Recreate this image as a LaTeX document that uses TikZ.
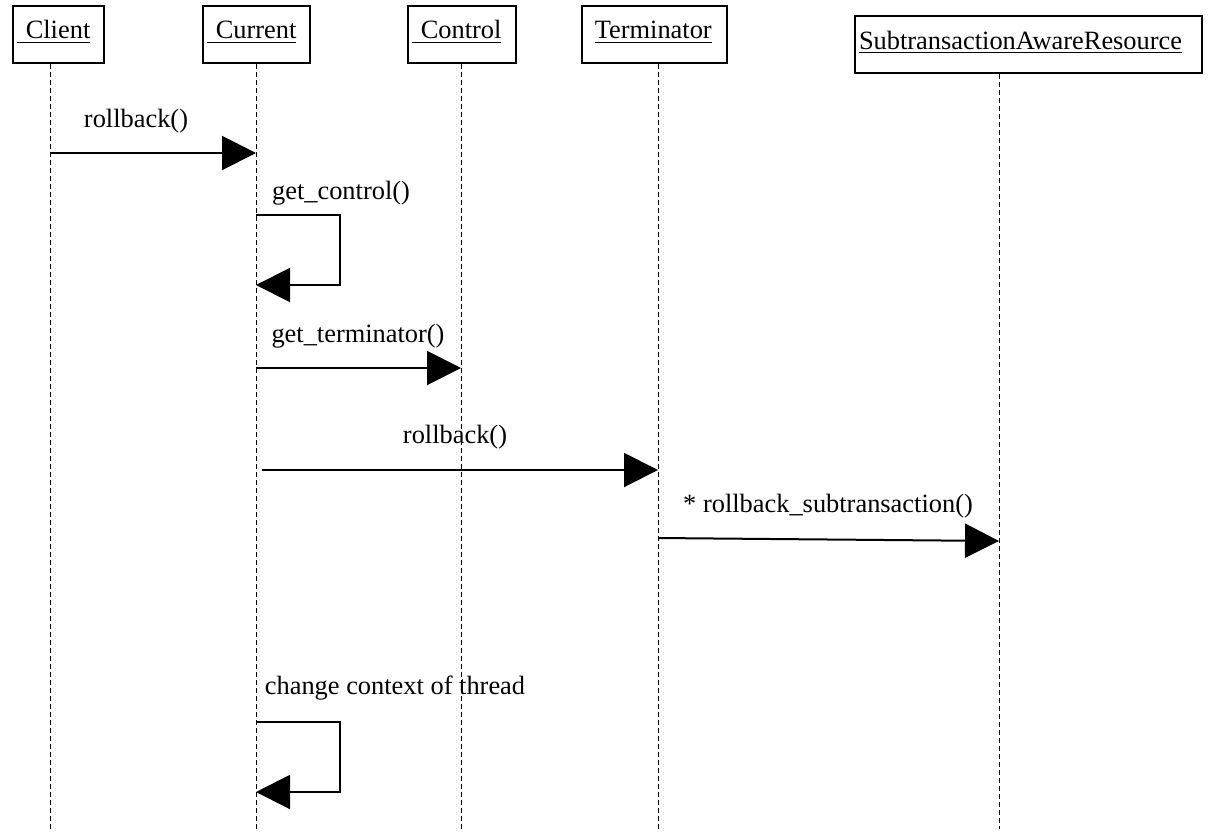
\documentclass[tikz,border=0pt]{standalone}
\usepackage{fontspec}
\setmainfont{Liberation Serif}
\usetikzlibrary{arrows.meta}
\tikzset{
	obj/.style={draw, line width=1pt, inner xsep=2pt, inner ysep=0pt,
		text width=#1, align=left,
		text height=16.5pt, text depth=12pt, anchor=north west},
	lifeline/.style={line width=0.4pt, dash pattern=on 2.5pt off 1.5pt},
	msg/.style={line width=1pt, -{Triangle[length=17pt, width=17pt]}},
	lbl/.style={inner sep=0pt}
}
\begin{document}
\begin{tikzpicture}[x=0.5pt, y=-0.5pt, font=\fontsize{13.2}{15}\selectfont]
\useasboundingbox (0,0) rectangle (1208,835);
\def\xclient{50}
\def\xcurrent{256}
\def\xcontrol{461}
\def\xterm{658}
\def\xsub{999}
% objects
\node[obj=41.5pt] (client) at (12,5) {\underline{\ Client}};
\node[obj=49.5pt] (current) at (202,5) {\underline{\ Current}};
\node[obj=50pt] (control) at (407,5) {\underline{\ Control}};
\node[obj=68.5pt] (term) at (581,5) {\ \underline{Terminator}};
\node[obj=169.5pt] (sub) at (854,15) {\underline{SubtransactionAwareResource}};
% lifelines
\draw[lifeline] (client.south -| \xclient,0) -- (\xclient,832);
\draw[lifeline] (current.south -| \xcurrent,0) -- (\xcurrent,832);
\draw[lifeline] (control.south -| \xcontrol,0) -- (\xcontrol,832);
\draw[lifeline] (term.south -| \xterm,0) -- (\xterm,832);
\draw[lifeline] (sub.south -| \xsub,0) -- (\xsub,829);
% messages
\node[lbl] (m1) at (136,121) {rollback()};
\draw[msg] (\xclient,153) -- (\xcurrent,153);
\node[lbl] (m2) at (341,193) {get\_control()};
\draw[msg] (\xcurrent,215) -- (340,215) -- (340,285) -- (\xcurrent,285);
\node[lbl] (m3) at (358,336) {get\_terminator()};
\draw[msg] (\xcurrent,368) -- (\xcontrol,368);
\node[lbl] (m4) at (455,437) {rollback()};
\draw[msg] (262,470) -- (\xterm,470);
\node[lbl] (m5) at (828,506) {* rollback\_subtransaction()};
\draw[msg] (\xterm,538) -- (\xsub,541);
\node[lbl] (m6) at (395,688) {change context of thread};
\draw[msg] (\xcurrent,722) -- (340,722) -- (340,792) -- (\xcurrent,792);
\end{tikzpicture}
\end{document}
